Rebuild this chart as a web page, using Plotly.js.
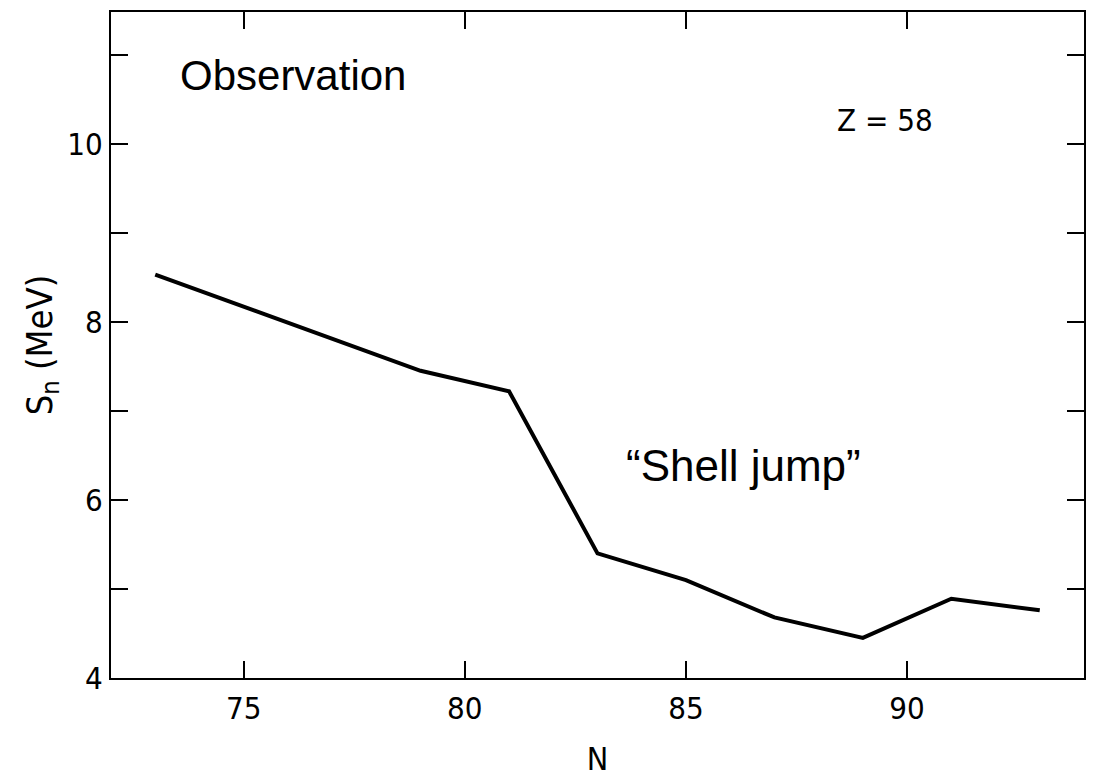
<!DOCTYPE html>
<html>
<head>
<meta charset="utf-8">
<script src="https://cdn.plot.ly/plotly-3.0.1.min.js"></script>
<style>
  html, body { margin: 0; padding: 0; background: #fff; }
  #chart { width: 1107px; height: 779px; }
</style>
</head>
<body>
<div id="chart"></div>
<script>
// Neutron separation energy S_n for cerium isotopes (Z = 58)
const neutronNumber = [73, 79, 81, 83, 85, 87, 89, 91, 93];
const separationMeV = [8.53, 7.45, 7.22, 5.40, 5.10, 4.68, 4.45, 4.89, 4.76];

const xTickVals = [75, 80, 85, 90];
const yTickVals = [4, 6, 8, 10];

const figFont = '"DejaVu Sans Condensed", "DejaVu Sans", sans-serif';
const labelFont = '"Liberation Sans", Arial, sans-serif';

const trace = {
  x: neutronNumber,
  y: separationMeV,
  type: 'scatter',
  mode: 'lines',
  line: { color: '#000', width: 4 },
  hoverinfo: 'skip'
};

const axisCommon = {
  showline: true,
  linecolor: '#000',
  linewidth: 2,
  mirror: 'ticks',
  ticks: 'inside',
  ticklen: 17,
  tickwidth: 2,
  tickcolor: '#000',
  showgrid: false,
  zeroline: false,
  tickfont: { family: figFont, size: 31, color: '#000' }
};

const layout = {
  width: 1107,
  height: 779,
  margin: { l: 111, r: 23, t: 12, b: 101 },
  paper_bgcolor: '#fff',
  plot_bgcolor: '#fff',
  showlegend: false,
  xaxis: Object.assign({}, axisCommon, {
    range: [72, 94],
    tickmode: 'array',
    tickvals: xTickVals,
    ticklabelstandoff: 2,
    title: { text: 'N', font: { family: figFont, size: 32, color: '#000' }, standoff: 22 }
  }),
  yaxis: Object.assign({}, axisCommon, {
    range: [4, 11.48],
    tickmode: 'array',
    tickvals: yTickVals,
    ticklabelstandoff: 0,
    minor: { ticks: 'inside', ticklen: 17, tickwidth: 2, tickcolor: '#000', tick0: 4, dtick: 1, showgrid: false },
    title: { text: 'S<sub>n</sub> (MeV)', font: { family: figFont, size: 36, color: '#000' }, standoff: 4 }
  }),
  annotations: [
    {
      x: 73.51, y: 10.77, xref: 'x', yref: 'y',
      xanchor: 'left', yanchor: 'middle',
      text: 'Observation', showarrow: false,
      font: { family: labelFont, size: 42, color: '#000' }
    },
    {
      x: 88.36, y: 10.27, xref: 'x', yref: 'y',
      xanchor: 'left', yanchor: 'middle',
      text: 'Z = 58', showarrow: false,
      font: { family: figFont, size: 31, color: '#000' }
    },
    {
      x: 83.61, y: 6.39, xref: 'x', yref: 'y',
      xanchor: 'left', yanchor: 'middle',
      text: '\u201cShell jump\u201d', showarrow: false,
      font: { family: labelFont, size: 44, color: '#000' }
    }
  ]
};

Plotly.newPlot('chart', [trace], layout, { displayModeBar: false, staticPlot: true });
</script>
</body>
</html>
